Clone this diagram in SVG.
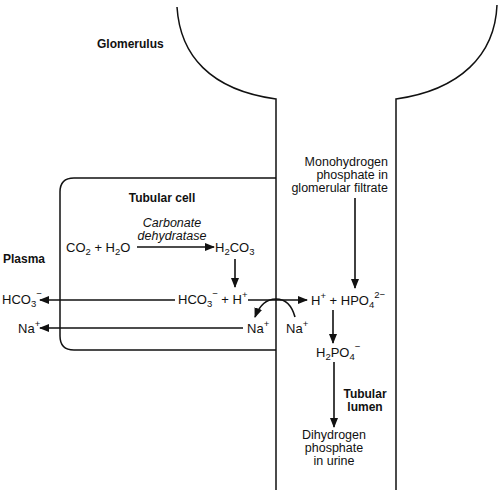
<svg xmlns="http://www.w3.org/2000/svg" width="500" height="493" viewBox="0 0 500 493">
<style>
text{font-family:"Liberation Sans",Arial,sans-serif;fill:#111;}
.t{font-size:12.5px;}
.c{font-size:13px;}
.b{font-size:12px;font-weight:bold;}
.i{font-size:12.5px;font-style:italic;}
.s{font-size:9.5px;}
.ln{fill:none;stroke:#111;stroke-width:1.5;}
.ar{fill:none;stroke:#111;stroke-width:1.6;marker-end:url(#ah);}
</style>
<defs>
<marker id="ah" viewBox="0 0 10 8" refX="9" refY="4" markerWidth="10" markerHeight="8" markerUnits="userSpaceOnUse" orient="auto">
<path d="M0,0 L10,4 L0,8 z" fill="#111"/>
</marker>
</defs>
<rect width="500" height="493" fill="#fff"/>
<g id="structure">
<path class="ln" d="M177,7 C180,55 210,90 276,99 V490"/>
<path class="ln" d="M497,5 C495,55 460,90 396,99 V490"/>
<path class="ln" d="M276,178 H74 Q60,178 60,192 V336 Q60,350 74,350 H276"/>
</g>
<g id="labels">
<text class="b" x="97" y="48">Glomerulus</text>
<text class="b" x="162" y="202" text-anchor="middle">Tubular cell</text>
<text class="b" x="3" y="263">Plasma</text>
<text class="b" x="365" y="398" text-anchor="middle">Tubular</text>
<text class="b" x="365" y="411" text-anchor="middle">lumen</text>
</g>
<g id="co2">
<text class="c" x="66" y="252">CO<tspan class="s" dy="3">2</tspan><tspan dy="-3"> + H</tspan><tspan class="s" dy="3">2</tspan><tspan dy="-3">O</tspan></text>
</g>
<g id="enzyme">
<text class="i" x="172" y="227" text-anchor="middle">Carbonate</text>
<text class="i" x="172" y="240" text-anchor="middle">dehydratase</text>
</g>
<g id="h2co3">
<text class="c" x="215" y="252">H<tspan class="s" dy="3">2</tspan><tspan dy="-3">CO</tspan><tspan class="s" dy="3">3</tspan></text>
</g>
<g id="hco3-h">
<text class="c" x="178" y="304">HCO<tspan class="s" dy="3">3</tspan><tspan class="s" dy="-10">−</tspan><tspan dy="7"> + H</tspan><tspan class="s" dy="-6">+</tspan></text>
</g>
<g id="hco3-plasma">
<text class="c" x="2" y="304">HCO<tspan class="s" dy="3">3</tspan><tspan class="s" dy="-10">−</tspan></text>
</g>
<g id="na-plasma">
<text class="c" x="18" y="333">Na<tspan class="s" dy="-6">+</tspan></text>
</g>
<g id="na-cell">
<text class="c" x="247" y="333">Na<tspan class="s" dy="-6">+</tspan></text>
</g>
<g id="na-lumen">
<text class="c" x="286" y="333">Na<tspan class="s" dy="-6">+</tspan></text>
</g>
<g id="filtrate">
<text class="t" x="388" y="166" text-anchor="end">Monohydrogen</text>
<text class="t" x="388" y="179" text-anchor="end">phosphate in</text>
<text class="t" x="388" y="192" text-anchor="end">glomerular filtrate</text>
</g>
<g id="hpo4">
<text class="c" x="311" y="305">H<tspan class="s" dy="-6">+</tspan><tspan dy="6"> + HPO</tspan><tspan class="s" dy="3">4</tspan><tspan class="s" dy="-10">2−</tspan></text>
</g>
<g id="h2po4">
<text class="c" x="316" y="357">H<tspan class="s" dy="3">2</tspan><tspan dy="-3">PO</tspan><tspan class="s" dy="3">4</tspan><tspan class="s" dy="-10">−</tspan></text>
</g>
<g id="urine">
<text class="t" x="334" y="439" text-anchor="middle">Dihydrogen</text>
<text class="t" x="334" y="452" text-anchor="middle">phosphate</text>
<text class="t" x="334" y="465" text-anchor="middle">in urine</text>
</g>
<g id="connectors">
<line class="ar" x1="137" y1="247" x2="214" y2="247"/>
<line class="ar" x1="235" y1="259" x2="235" y2="287"/>
<line class="ar" x1="175" y1="300" x2="40" y2="300"/>
<line class="ar" x1="248" y1="300" x2="307" y2="300"/>
<line class="ar" x1="243" y1="328" x2="40" y2="328"/>
<path class="ar" d="M295,317 Q290,299 276,299 Q262,299 255,317"/>
<line class="ar" x1="355" y1="198" x2="355" y2="288"/>
<line class="ar" x1="333" y1="310" x2="333" y2="343"/>
<line class="ar" x1="334" y1="362" x2="334" y2="427"/>
</g>
</svg>
